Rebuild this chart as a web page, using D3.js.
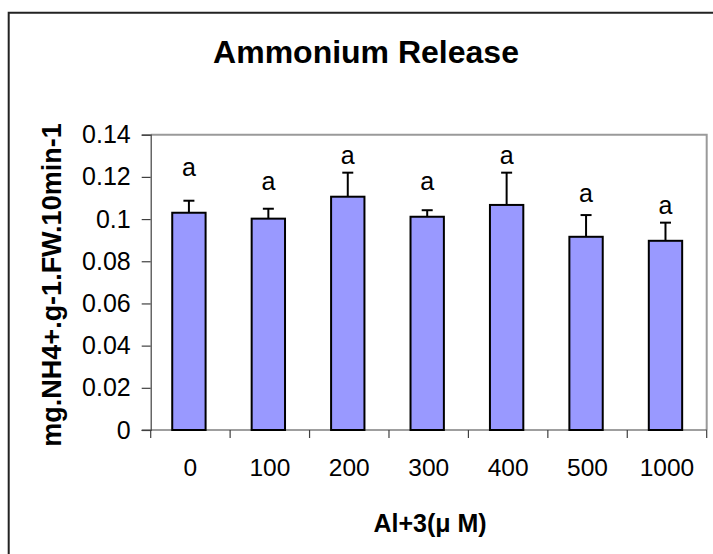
<!DOCTYPE html>
<html>
<head>
<meta charset="utf-8">
<script src="https://cdn.jsdelivr.net/npm/d3@7"></script>
<style>
  html, body { margin: 0; padding: 0; background: #fff; }
  svg { display: block; }
  text { font-family: "Liberation Sans", Arial, sans-serif; }
</style>
</head>
<body>
<div id="chart"></div>
<script>
// ---- data ----
const categories = ["0", "100", "200", "300", "400", "500", "1000"];
const values     = [0.1030, 0.1002, 0.1106, 0.1011, 0.1067, 0.0916, 0.0897];
const errors     = [0.0057, 0.0047, 0.0114, 0.0031, 0.0153, 0.0103, 0.0086];
const letters    = ["a", "a", "a", "a", "a", "a", "a"];
const letterAt   = [0.1204, 0.1138, 0.1261, 0.1138, 0.1261, 0.1083, 0.1024];
const yTicks     = [0, 0.02, 0.04, 0.06, 0.08, 0.1, 0.12, 0.14];
const title      = "Ammonium Release";
const xTitle     = "Al+3(\u03bc M)";
const yTitle     = "mg.NH4+.g-1.FW.10min-1";

// ---- layout ----
const W = 713, H = 554;
const plot = { left: 150.7, right: 706.7, top: 134.7, bottom: 430 };

const svg = d3.select("#chart").append("svg")
  .attr("width", W).attr("height", H);

// outer chart border (open at right/bottom, cropped)
svg.append("path")
  .attr("d", `M8.7,${H + 5} L8.7,12.7 L${W + 5},12.7`)
  .attr("fill", "none").attr("stroke", "#222").attr("stroke-width", 2);

const x = d3.scaleBand().domain(categories)
  .range([plot.left, plot.right]).paddingInner(0.58).paddingOuter(0.29);
const y = d3.scaleLinear().domain([0, 0.14]).range([plot.bottom, plot.top]);

// plot area border top/right (gray)
svg.append("path")
  .attr("d", `M${plot.left},${plot.top} L${plot.right},${plot.top} L${plot.right},${plot.bottom}`)
  .attr("fill", "none").attr("stroke", "#9a9a9a").attr("stroke-width", 2);

// y axis
const yAxis = svg.append("g")
  .attr("transform", `translate(${plot.left},0)`)
  .call(d3.axisLeft(y).tickValues(yTicks).tickSize(9).tickPadding(11)
        .tickFormat(d => d3.format("")(+d.toFixed(2))));
yAxis.select(".domain").attr("stroke", "#404040").attr("stroke-width", 1.2);
yAxis.selectAll(".tick line").attr("stroke", "#404040").attr("stroke-width", 1.2);
yAxis.selectAll(".tick text").attr("font-size", 25).attr("fill", "#000")
  .attr("font-family", "'Liberation Sans', Arial, sans-serif");

// x axis line + boundary ticks
const step = x.step();
const boundaries = d3.range(categories.length + 1).map(i => plot.left + i * step);
svg.append("line")
  .attr("x1", plot.left - 9).attr("x2", plot.right)
  .attr("y1", y(0)).attr("y2", y(0))
  .attr("stroke", "#404040").attr("stroke-width", 1.2);
svg.append("g").selectAll("line").data(boundaries).join("line")
  .attr("x1", d => d).attr("x2", d => d)
  .attr("y1", y(0)).attr("y2", y(0) + 8)
  .attr("stroke", "#404040").attr("stroke-width", 1.2);

// x tick labels (category centers)
svg.append("g").selectAll("text").data(categories).join("text")
  .attr("x", d => plot.left + (categories.indexOf(d) + 0.5) * step)
  .attr("y", 475.7)
  .attr("text-anchor", "middle").attr("font-size", 24.5).attr("fill", "#000")
  .text(d => d);

// bars
const data = categories.map((c, i) => ({ c, v: values[i], e: errors[i], l: letters[i], la: letterAt[i] }));
svg.append("g").selectAll("rect").data(data).join("rect")
  .attr("x", d => x(d.c) - 1.5)
  .attr("y", d => y(d.v))
  .attr("width", x.bandwidth())
  .attr("height", d => y(0) - y(d.v))
  .attr("fill", "#9999ff").attr("stroke", "#000").attr("stroke-width", 2);

// error bars (upper only)
const eg = svg.append("g").attr("stroke", "#000").attr("stroke-width", 2);
data.forEach(d => {
  const cx = x(d.c) - 1.5 + x.bandwidth() / 2;
  eg.append("line").attr("x1", cx).attr("x2", cx)
    .attr("y1", y(d.v)).attr("y2", y(d.v + d.e));
  eg.append("line").attr("x1", cx - 5.5).attr("x2", cx + 5.5)
    .attr("y1", y(d.v + d.e)).attr("y2", y(d.v + d.e));
});

// significance letters
svg.append("g").selectAll("text").data(data).join("text")
  .attr("x", d => x(d.c) - 1.5 + x.bandwidth() / 2)
  .attr("y", d => y(d.la))
  .attr("text-anchor", "middle").attr("font-size", 25).attr("fill", "#000")
  .text(d => d.l);

// title
svg.append("text")
  .attr("x", 366).attr("y", 63.3)
  .attr("text-anchor", "middle").attr("font-size", 32).attr("font-weight", "bold")
  .text(title);

// x title
svg.append("text")
  .attr("x", 430).attr("y", 531.7)
  .attr("text-anchor", "middle").attr("font-size", 25).attr("font-weight", "bold")
  .text(xTitle);

// y title
svg.append("text")
  .attr("transform", `translate(61,285) rotate(-90)`)
  .attr("text-anchor", "middle").attr("font-size", 27).attr("font-weight", "bold")
  .text(yTitle);
</script>
</body>
</html>
